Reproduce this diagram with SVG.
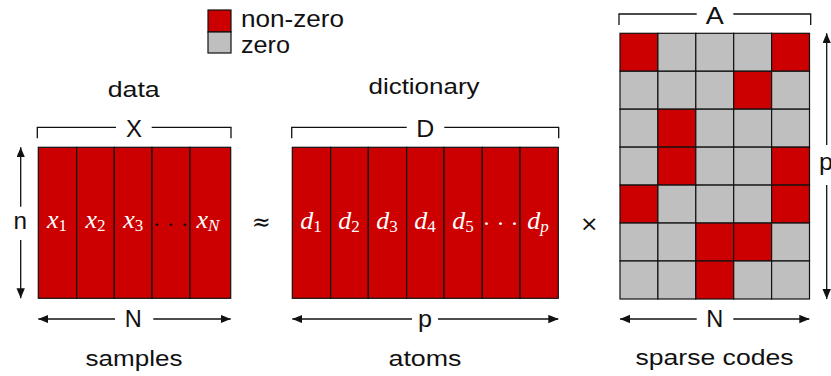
<svg xmlns="http://www.w3.org/2000/svg" width="831" height="376" viewBox="0 0 831 376">
<defs>
<style>
.red{fill:#cc0000;stroke:#111;stroke-width:1.2}
.gray{fill:#bfbfbf;stroke:#111;stroke-width:1.2}
.lbl{font-family:"Liberation Sans",Arial,sans-serif;fill:#111;text-anchor:middle}
.big{font-size:22px}
.sym{font-size:24px}
.math{font-family:"Liberation Serif","DejaVu Serif",serif;font-style:italic;font-size:26px;fill:#fff;text-anchor:middle}
.sub{font-size:17px}
.rm{font-style:normal}
.line{stroke:#111;stroke-width:1.3;fill:none}
.arr{stroke:#111;stroke-width:1.3;fill:none;marker-end:url(#ah)}
</style>
<marker id="ah" markerUnits="userSpaceOnUse" markerWidth="10" markerHeight="9" refX="10" refY="4.2" orient="auto">
<path d="M0,0 L10,4.2 L0,8.4 z" fill="#111"/>
</marker>
</defs>
<rect width="831" height="376" fill="#fff"/>

<g id="legend">
<rect class="red" x="208" y="10" width="23" height="22"/>
<rect class="gray" x="208" y="32" width="23" height="21"/>
<text class="lbl" style="text-anchor:start;font-size:24px" x="241" y="27" textLength="103" lengthAdjust="spacingAndGlyphs">non-zero</text>
<text class="lbl" style="text-anchor:start;font-size:24px" x="241" y="52.5" textLength="49" lengthAdjust="spacingAndGlyphs">zero</text>
</g>

<g id="matrix-X">
<rect class="red" x="38.3" y="147.3" width="38.4" height="151"/>
<rect class="red" x="76.7" y="147.3" width="37.6" height="151"/>
<rect class="red" x="114.3" y="147.3" width="37.7" height="151"/>
<rect class="red" x="152" y="147.3" width="38" height="151"/>
<rect class="red" x="190" y="147.3" width="40.7" height="151"/>
<text class="math" x="57" y="227.5">x<tspan class="sub rm" dy="3">1</tspan></text>
<text class="math" x="95.5" y="227.5">x<tspan class="sub rm" dy="3">2</tspan></text>
<text class="math" x="133.2" y="227.5">x<tspan class="sub rm" dy="3">3</tspan></text>
<text class="math rm" style="fill:#111;font-size:24px" x="170.5" y="232">· · ·</text>
<text class="math" x="208" y="227.5">x<tspan class="sub" dy="3">N</tspan></text>
</g>

<g id="matrix-D">
<rect class="red" x="292.3" y="147.3" width="38.4" height="151"/>
<rect class="red" x="330.7" y="147.3" width="37.6" height="151"/>
<rect class="red" x="368.3" y="147.3" width="38.4" height="151"/>
<rect class="red" x="406.7" y="147.3" width="37.3" height="151"/>
<rect class="red" x="444" y="147.3" width="38.3" height="151"/>
<rect class="red" x="482.3" y="147.3" width="37.7" height="151"/>
<rect class="red" x="520" y="147.3" width="38.3" height="151"/>
<text class="math" x="311" y="229">d<tspan class="sub rm" dy="3">1</tspan></text>
<text class="math" x="349" y="229">d<tspan class="sub rm" dy="3">2</tspan></text>
<text class="math" x="387" y="229">d<tspan class="sub rm" dy="3">3</tspan></text>
<text class="math" x="425" y="229">d<tspan class="sub rm" dy="3">4</tspan></text>
<text class="math" x="463" y="229">d<tspan class="sub rm" dy="3">5</tspan></text>
<text class="math rm" style="font-size:24px" x="500.5" y="231">· · ·</text>
<text class="math" x="538" y="229">d<tspan class="sub" dy="3">p</tspan></text>
</g>

<g id="matrix-A">
<rect class="red" x="620" y="33.3" width="37.9" height="37.95"/>
<rect class="gray" x="657.9" y="33.3" width="37.9" height="37.95"/>
<rect class="gray" x="695.8" y="33.3" width="37.9" height="37.95"/>
<rect class="gray" x="733.7" y="33.3" width="37.9" height="37.95"/>
<rect class="red" x="771.6" y="33.3" width="37.9" height="37.95"/>

<rect class="gray" x="620" y="71.25" width="37.9" height="37.95"/>
<rect class="gray" x="657.9" y="71.25" width="37.9" height="37.95"/>
<rect class="gray" x="695.8" y="71.25" width="37.9" height="37.95"/>
<rect class="red" x="733.7" y="71.25" width="37.9" height="37.95"/>
<rect class="gray" x="771.6" y="71.25" width="37.9" height="37.95"/>

<rect class="gray" x="620" y="109.2" width="37.9" height="37.95"/>
<rect class="red" x="657.9" y="109.2" width="37.9" height="37.95"/>
<rect class="gray" x="695.8" y="109.2" width="37.9" height="37.95"/>
<rect class="gray" x="733.7" y="109.2" width="37.9" height="37.95"/>
<rect class="gray" x="771.6" y="109.2" width="37.9" height="37.95"/>

<rect class="gray" x="620" y="147.15" width="37.9" height="37.95"/>
<rect class="red" x="657.9" y="147.15" width="37.9" height="37.95"/>
<rect class="gray" x="695.8" y="147.15" width="37.9" height="37.95"/>
<rect class="gray" x="733.7" y="147.15" width="37.9" height="37.95"/>
<rect class="red" x="771.6" y="147.15" width="37.9" height="37.95"/>

<rect class="red" x="620" y="185.1" width="37.9" height="37.95"/>
<rect class="gray" x="657.9" y="185.1" width="37.9" height="37.95"/>
<rect class="gray" x="695.8" y="185.1" width="37.9" height="37.95"/>
<rect class="gray" x="733.7" y="185.1" width="37.9" height="37.95"/>
<rect class="red" x="771.6" y="185.1" width="37.9" height="37.95"/>

<rect class="gray" x="620" y="223.05" width="37.9" height="37.95"/>
<rect class="gray" x="657.9" y="223.05" width="37.9" height="37.95"/>
<rect class="red" x="695.8" y="223.05" width="37.9" height="37.95"/>
<rect class="red" x="733.7" y="223.05" width="37.9" height="37.95"/>
<rect class="gray" x="771.6" y="223.05" width="37.9" height="37.95"/>

<rect class="gray" x="620" y="261" width="37.9" height="38"/>
<rect class="gray" x="657.9" y="261" width="37.9" height="38"/>
<rect class="red" x="695.8" y="261" width="37.9" height="38"/>
<rect class="gray" x="733.7" y="261" width="37.9" height="38"/>
<rect class="gray" x="771.6" y="261" width="37.9" height="38"/>
</g>

<g id="connectors">
<path class="line" d="M37.3 138.3 V127.3 H116 M151.7 127.3 H231 V138.3"/>
<path class="line" d="M291.7 138.3 V127.3 H406.7 M444.3 127.3 H558.7 V138.3"/>
<path class="line" d="M619 25 V14 H696.7 M733.3 14 H810.7 V25"/>
<line class="arr" x1="20.7" y1="206.7" x2="20.7" y2="147.3"/>
<line class="arr" x1="20.7" y1="240" x2="20.7" y2="298.3"/>
<line class="arr" x1="826.7" y1="145" x2="826.7" y2="33.3"/>
<line class="arr" x1="826.7" y1="185" x2="826.7" y2="299"/>
<line class="arr" x1="115" y1="319" x2="38.3" y2="319"/>
<line class="arr" x1="153.3" y1="319" x2="230.7" y2="319"/>
<line class="arr" x1="412" y1="319" x2="292.3" y2="319"/>
<line class="arr" x1="438" y1="319" x2="558.3" y2="319"/>
<line class="arr" x1="696.7" y1="319" x2="620" y2="319"/>
<line class="arr" x1="733.3" y1="319" x2="809.3" y2="319"/>
</g>

<g id="labels">
<text class="lbl big" x="133.7" y="97" textLength="52" lengthAdjust="spacingAndGlyphs">data</text>
<text class="lbl big" x="424" y="93.5" textLength="111" lengthAdjust="spacingAndGlyphs">dictionary</text>
<text class="lbl big" x="134" y="365.5" textLength="97" lengthAdjust="spacingAndGlyphs">samples</text>
<text class="lbl big" x="425" y="365.5" textLength="73" lengthAdjust="spacingAndGlyphs">atoms</text>
<text class="lbl big" x="714.5" y="365" textLength="158" lengthAdjust="spacingAndGlyphs">sparse codes</text>
<text class="lbl sym" x="134" y="136.7" textLength="16" lengthAdjust="spacingAndGlyphs">X</text>
<text class="lbl sym" x="425.3" y="136.7" textLength="18" lengthAdjust="spacingAndGlyphs">D</text>
<text class="lbl sym" x="714.7" y="24" textLength="18" lengthAdjust="spacingAndGlyphs">A</text>
<text class="lbl sym" x="133.3" y="326.7" textLength="17" lengthAdjust="spacingAndGlyphs">N</text>
<text class="lbl sym" x="425" y="326.7" textLength="14" lengthAdjust="spacingAndGlyphs">p</text>
<text class="lbl sym" x="714.7" y="327" textLength="17" lengthAdjust="spacingAndGlyphs">N</text>
<text class="lbl sym" x="20.3" y="229.3" textLength="13.5" lengthAdjust="spacingAndGlyphs">n</text>
<text class="lbl sym" x="826" y="170" textLength="14" lengthAdjust="spacingAndGlyphs">p</text>
<text class="lbl" style="font-family:'DejaVu Serif',serif;font-size:24px" x="261.3" y="230" textLength="19" lengthAdjust="spacingAndGlyphs">≈</text>
<text class="lbl" style="font-family:'DejaVu Sans',sans-serif;font-size:22px" x="589.3" y="231">×</text>
</g>
</svg>
